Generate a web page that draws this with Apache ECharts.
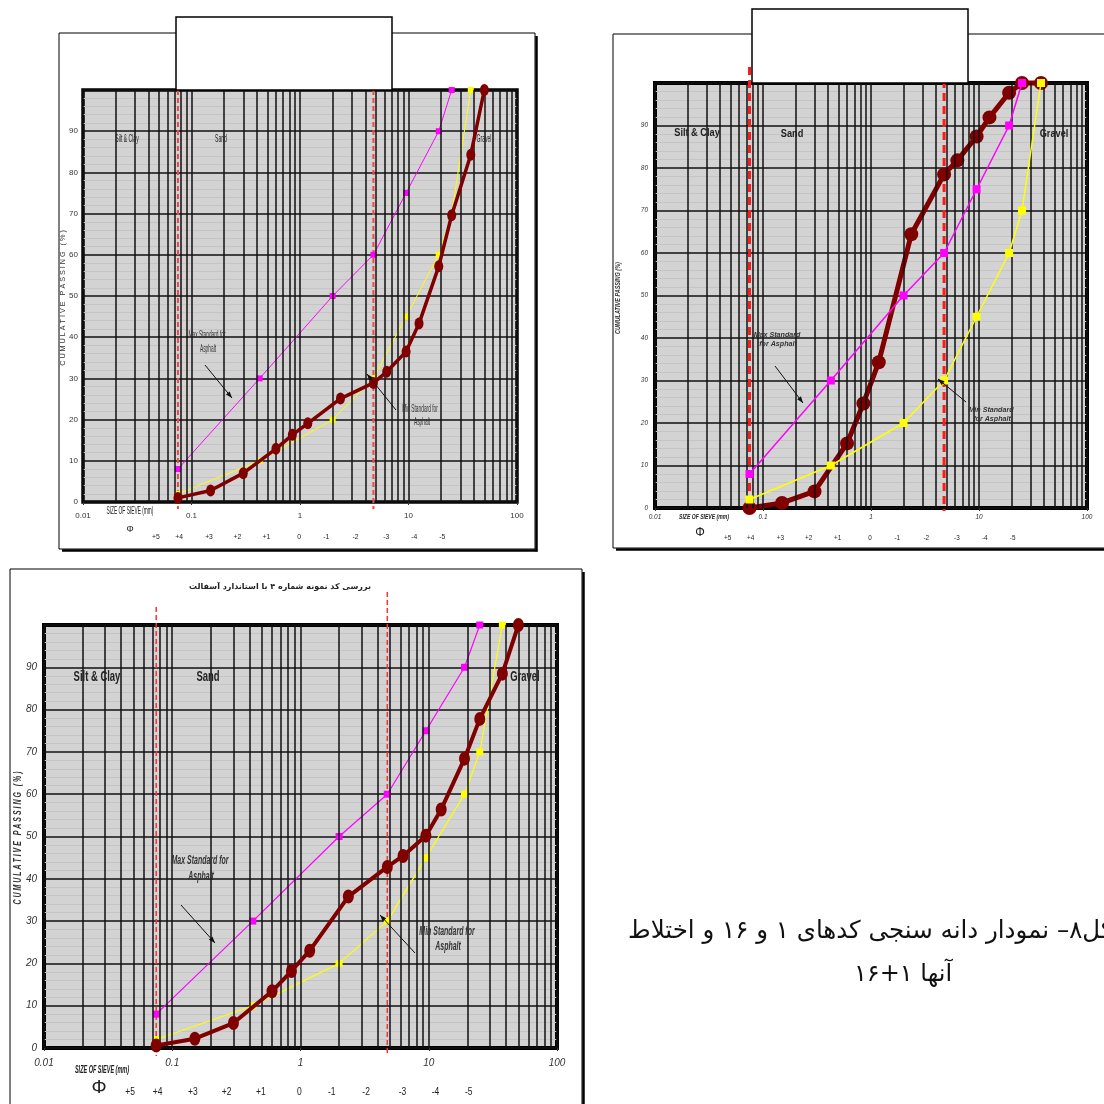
<!DOCTYPE html>
<html>
<head>
<meta charset="utf-8">
<script src="https://cdn.jsdelivr.net/npm/echarts@6/dist/echarts.min.js"></script>
<style>
  html, body { margin: 0; padding: 0; background: #fff; }
  #c { width: 1104px; height: 1104px; }
</style>
</head>
<body>
<div id="c"></div>
<script>
// Grading curves: asphalt aggregate standard envelope vs. tested samples.
// Sieve openings in mm, passing in percent.
const maxStdSieves = [0.075, 0.425, 2, 4.75, 9.5, 19, 25];
const maxStdPassing = [8, 30, 50, 60, 75, 90, 100];
const minStdSieves = [0.075, 0.425, 2, 4.75, 9.5, 19, 25, 37.5];
const minStdPassing = [2, 10, 20, 30, 45, 60, 70, 100];

const sample1Sieves = [0.075, 0.15, 0.3, 0.6, 0.85, 1.18, 2.36, 4.75, 6.3, 9.5, 12.5, 19, 25, 37.5, 50];
const sample1Passing = [1, 2.8, 7, 12.9, 16.3, 19.1, 25.1, 28.9, 31.6, 36.5, 43.3, 57.2, 69.6, 84.3, 100];
const sample16Sieves = [0.075, 0.15, 0.3, 0.6, 0.85, 1.18, 2.36, 4.75, 6.3, 9.5, 12.5, 19, 25, 37.5];
const sample16Passing = [0, 1.2, 3.9, 15.2, 24.6, 34.3, 64.4, 78.5, 81.8, 87.4, 91.9, 97.7, 100, 100];
const mixSieves = [0.075, 0.15, 0.3, 0.6, 0.85, 1.18, 2.36, 4.75, 6.3, 9.5, 12.5, 19, 25, 37.5, 50];
const mixPassing = [0.6, 2.2, 5.9, 13.4, 18.2, 23.0, 35.8, 42.8, 45.4, 50.2, 56.4, 68.4, 77.8, 88.5, 100];

// Axis labels
const sieveDecadeLabels = ['0.01', '0.1', '1', '10', '100'];
const phiLabels = ['+5', '+4', '+3', '+2', '+1', '0', '-1', '-2', '-3', '-4', '-5'];
const phiLabelSieves = [0.047, 0.077, 0.145, 0.265, 0.49, 0.98, 1.75, 3.25, 6.25, 11.3, 20.5];
const boundarySieves = [0.075, 4.75];
const zoneNames = ['Silt & Clay', 'Sand', 'Gravel'];

const SANS = '"Liberation Sans",Arial,sans-serif';
const FA = '"DejaVu Sans",sans-serif';

const spaced = s => s.split('').join(' ');

// log-paper vertical rulings: 1..9 within each decade
const logRulings = [];
for (let e = -2; e <= 1; e++) {
  for (let m = 1; m <= 9; m++) logRulings.push(+(m * Math.pow(10, e)).toPrecision(2));
}
logRulings.push(100);

const panels = [
  {
    grid: { left: 83, top: 90, width: 434, height: 412 },
    sieves: sample1Sieves, passing: sample1Passing,
    tickSize: 8, tickStyle: 'normal', tickWeight: 'normal',
    xMargin: 10, yMargin: 5,
    yName: [spaced('CUMULATIVE PASSING (%)'), 63, 298, 8, 'normal', 'normal', 0.9],
    phiY: 537, phiSize: 8,
    phiSym: [130, 530, 9],
    sizeLabel: [130, 511, 10.5, 'normal', 'normal', 0.46],
    zoneSize: 11, zoneWeight: 'normal', zoneScale: 0.46, zonePos: [[127, 139], [221, 139], [484, 139]],
    noteSize: 10.5, noteWeight: 'normal', noteStyle: 'normal', noteScale: 0.46,
    maxNote: [['Max Standard for', 207, 335], ['Asphalt', 208, 349]], maxArrow: [205, 365, 232, 398],
    minNote: [['Min Standard for', 420, 409], ['Asphalt', 422, 422]], minArrow: [396, 410, 367, 374],
    sampleWidth: 3.5, sampleSymbol: [9, 12], stdSymbol: 6, stdWidth: 1, border: 3.5, rulingWidth: 1.5,
    sampleOnTop: true,
    dash: { color: '#f04848', width: 2, dash: [5, 3], from: [90, 90], to: 509 },
    frame: { x: 59, y: 33, w: 476, h: 516, shadowR: true, shadowB: true },
    titleBox: { x: 176, y: 17, w: 216, h: 73 }
  },
  {
    grid: { left: 655, top: 83, width: 432, height: 425 },
    sieves: sample16Sieves, passing: sample16Passing,
    tickSize: 6.5, tickStyle: 'italic', tickWeight: 'normal',
    xMargin: 6, yMargin: 7,
    yName: ['CUMULATIVE PASSING (%)', 618, 298, 6.5, 'bold', 'italic', 0.85],
    phiY: 538, phiSize: 7.5,
    phiSym: [700, 533, 12],
    sizeLabel: [704, 517, 6.5, 'bold', 'italic', 0.78],
    zoneSize: 10, zoneWeight: 'bold', zoneScale: 0.92, zonePos: [[697, 133], [792, 134], [1054, 134]],
    noteSize: 7.5, noteWeight: 'bold', noteStyle: 'italic', noteScale: 0.95,
    maxNote: [['Max Standard', 777, 335], ['for Asphalt', 778, 344]], maxArrow: [775, 366, 803, 403],
    minNote: [['Min Standard', 991, 410], ['for Asphalt', 992, 419]], minArrow: [966, 402, 938, 379],
    sampleWidth: 5, sampleSymbol: 14, stdSymbol: 8, stdWidth: 1.5, border: 4, rulingWidth: 1.5,
    sampleOnTop: false,
    dash: { color: '#ff1a1a', width: 3, dash: [8, 5], from: [67, 67], to: 511 },
    frame: { x: 613, y: 34, w: 520, h: 514, shadowB: true },
    titleBox: { x: 752, y: 9, w: 216, h: 74 }
  },
  {
    grid: { left: 44, top: 625, width: 513, height: 423 },
    sieves: mixSieves, passing: mixPassing,
    tickSize: 10, tickStyle: 'italic', tickWeight: 'normal',
    xMargin: 10, yMargin: 7,
    yName: [spaced('CUMULATIVE PASSING (%)'), 18, 838, 10, 'bold', 'italic', 0.7],
    phiY: 1092, phiSize: 10,
    phiSym: [99, 1088, 19],
    sizeLabel: [102, 1070, 11, 'bold', 'italic', 0.5],
    zoneSize: 15.5, zoneWeight: 'bold', zoneScale: 0.61, zonePos: [[97, 677], [208, 677], [525, 677]],
    noteSize: 12, noteWeight: 'bold', noteStyle: 'italic', noteScale: 0.58,
    maxNote: [['Max Standard for', 200, 861], ['Asphalt', 201, 877]], maxArrow: [181, 905, 215, 943],
    minNote: [['Min Standard for', 447, 932], ['Asphalt', 448, 947]], minArrow: [415, 953, 380, 915],
    sampleWidth: 4, sampleSymbol: [11, 14], stdSymbol: 7, stdWidth: 1.2, border: 4, rulingWidth: 1.5,
    sampleOnTop: true,
    dash: { color: '#ff3030', width: 1.5, dash: [5, 3], from: [607, 592], to: 1056 },
    frame: { x: 10, y: 569, w: 572, h: 560, shadowR: true },
    title: ['بررسی کد نمونه شماره ۴ با استاندارد آسفالت', 280, 587]
  }
];

const chart = echarts.init(document.getElementById('c'));

const grids = [], xAxes = [], yAxes = [], series = [];
panels.forEach((p, i) => {
  grids.push(Object.assign({ show: true, backgroundColor: '#d3d3d3', borderColor: '#000', borderWidth: p.border, z: 0 }, p.grid));
  const labelStyle = { color: '#333', fontSize: p.tickSize, fontFamily: SANS, fontStyle: p.tickStyle, fontWeight: p.tickWeight };
  xAxes.push({
    type: 'log', logBase: 10, min: 0.01, max: 100, gridIndex: i,
    axisLine: { show: false },
    axisTick: { show: true, length: 3, lineStyle: { color: '#333' } },
    axisLabel: Object.assign({ margin: p.xMargin, formatter: v => sieveDecadeLabels[Math.round(Math.log10(v)) + 2] }, labelStyle),
    splitLine: { show: false }
  });
  yAxes.push({
    type: 'value', min: 0, max: 100, interval: 10, gridIndex: i,
    axisLine: { show: false }, axisTick: { show: false },
    axisLabel: Object.assign({ margin: p.yMargin, formatter: v => (v === 100 ? '' : String(v)) }, labelStyle),
    splitLine: { show: true, lineStyle: { color: '#111', width: 1.5 } },
    minorTick: { show: false, splitNumber: 5 },
    minorSplitLine: { show: true, lineStyle: { color: '#c4c4c4', width: 1 } }
  });
  // vertical log rulings
  series.push({
    type: 'line', xAxisIndex: i, yAxisIndex: i, z: 1, silent: true,
    data: [[0.01, 0]], symbol: 'none', lineStyle: { opacity: 0 },
    markLine: {
      silent: true, symbol: ['none', 'none'], label: { show: false },
      lineStyle: { color: '#111', width: p.rulingWidth, type: 'solid' },
      emphasis: { disabled: true },
      data: logRulings.map(v => ({ xAxis: v }))
    }
  });
  const stdZ = p.sampleOnTop ? 3 : 5;
  const sampleZ = p.sampleOnTop ? 5 : 3;
  series.push({
    name: 'Max Standard for Asphalt', type: 'line', xAxisIndex: i, yAxisIndex: i, z: stdZ, clip: false,
    data: maxStdSieves.map((s, k) => [s, maxStdPassing[k]]),
    symbol: 'rect', symbolSize: p.stdSymbol, showAllSymbol: true,
    itemStyle: { color: '#ff00ff' }, lineStyle: { color: '#ff00ff', width: p.stdWidth }
  });
  series.push({
    name: 'Min Standard for Asphalt', type: 'line', xAxisIndex: i, yAxisIndex: i, z: stdZ, clip: false,
    data: minStdSieves.map((s, k) => [s, minStdPassing[k]]),
    symbol: 'rect', symbolSize: p.stdSymbol, showAllSymbol: true,
    itemStyle: { color: '#ffff00' }, lineStyle: { color: '#ffff00', width: p.stdWidth }
  });
  series.push({
    name: 'Sample', type: 'line', xAxisIndex: i, yAxisIndex: i, z: sampleZ, clip: false,
    data: p.sieves.map((s, k) => [s, p.passing[k]]),
    symbol: 'circle', symbolSize: p.sampleSymbol, showAllSymbol: true,
    itemStyle: { color: '#800000' }, lineStyle: { color: '#800000', width: p.sampleWidth }
  });
});

chart.setOption({
  animation: false,
  backgroundColor: '#fff',
  grid: grids, xAxis: xAxes, yAxis: yAxes, series: series
});

// text element; sx squeezes the glyphs horizontally (condensed face), rot in radians
function txt(text, x, y, o) {
  const align = o.align || 'center';
  return {
    type: 'text', z: 10, x: x, y: y, silent: true,
    scaleX: o.sx || 1, rotation: o.rot || 0,
    style: {
      text: text, fill: o.color || '#222', fontSize: o.size, fontFamily: o.family || SANS,
      fontWeight: o.weight || 'normal', fontStyle: o.style || 'normal',
      textAlign: align, align: align, textVerticalAlign: 'middle', verticalAlign: 'middle'
    }
  };
}
function arrow(a, color) {
  const [x1, y1, x2, y2] = a;
  const ang = Math.atan2(y2 - y1, x2 - x1), h = 7;
  const p1 = [x2 - h * Math.cos(ang - 0.35), y2 - h * Math.sin(ang - 0.35)];
  const p2 = [x2 - h * Math.cos(ang + 0.35), y2 - h * Math.sin(ang + 0.35)];
  return [
    { type: 'line', z: 10, silent: true, shape: { x1, y1, x2, y2 }, style: { stroke: color, lineWidth: 1 } },
    { type: 'polygon', z: 10, silent: true, shape: { points: [[x2, y2], p1, p2] }, style: { fill: color } }
  ];
}

const g = [];
panels.forEach((p, i) => {
  const f = p.frame;
  g.push({ type: 'rect', z: 0, silent: true, shape: { x: f.x, y: f.y, width: f.w, height: f.h }, style: { fill: 'none', stroke: '#000', lineWidth: 1 } });
  if (f.shadowR) g.push({ type: 'line', z: 0, silent: true, shape: { x1: f.x + f.w + 1.5, y1: f.y + 3, x2: f.x + f.w + 1.5, y2: f.y + f.h + 2.5 }, style: { stroke: '#000', lineWidth: 2.5 } });
  if (f.shadowB) g.push({ type: 'line', z: 0, silent: true, shape: { x1: f.x + 3, y1: f.y + f.h + 1.5, x2: f.x + f.w + 2.5, y2: f.y + f.h + 1.5 }, style: { stroke: '#000', lineWidth: 2.5 } });

  boundarySieves.forEach((s, k) => {
    const x = chart.convertToPixel({ gridIndex: i }, [s, 0])[0];
    g.push({ type: 'line', z: 2, silent: true, shape: { x1: x, y1: p.dash.from[k], x2: x, y2: p.dash.to },
      style: { stroke: p.dash.color, lineWidth: p.dash.width, lineDash: p.dash.dash } });
  });

  if (p.titleBox) {
    const b = p.titleBox;
    g.push({ type: 'rect', z: 8, silent: true, shape: { x: b.x, y: b.y, width: b.w, height: b.h }, style: { fill: '#fff', stroke: '#000', lineWidth: 1.5 } });
  }
  if (p.title) g.push(txt(p.title[0], p.title[1], p.title[2], { size: 8, family: FA, weight: 'bold', color: '#222' }));

  const yn = p.yName;
  g.push(txt(yn[0], yn[1], yn[2], { size: yn[3], weight: yn[4], style: yn[5], sx: yn[6], rot: Math.PI / 2, color: '#333' }));

  phiLabels.forEach((t, k) => {
    const x = chart.convertToPixel({ gridIndex: i }, [phiLabelSieves[k], 0])[0];
    g.push(txt(t, x, p.phiY, { size: p.phiSize, sx: 0.85, color: '#222' }));
  });
  g.push(txt('Φ', p.phiSym[0], p.phiSym[1], { size: p.phiSym[2], color: '#222' }));
  const sl = p.sizeLabel;
  g.push(txt('SIZE OF SIEVE (mm)', sl[0], sl[1], { size: sl[2], weight: sl[3], style: sl[4], sx: sl[5], color: '#222' }));

  zoneNames.forEach((z, k) => {
    g.push(txt(z, p.zonePos[k][0], p.zonePos[k][1], { size: p.zoneSize, weight: p.zoneWeight, sx: p.zoneScale, color: '#222' }));
  });
  [p.maxNote, p.minNote].forEach(note => note.forEach(n => {
    g.push(txt(n[0], n[1], n[2], { size: p.noteSize, weight: p.noteWeight, style: p.noteStyle, sx: p.noteScale, color: '#333' }));
  }));
  g.push(...arrow(p.maxArrow, '#111'), ...arrow(p.minArrow, '#111'));
});

// figure caption
g.push(txt('شکل۸– نمودار دانه سنجی کدهای ۱ و ۱۶ و اختلاط', 628, 932, { size: 24.5, family: FA, align: 'left', color: '#111' }));
g.push(txt('آنها ۱+۱۶', 903, 975, { size: 24, family: FA, color: '#111' }));

chart.setOption({ graphic: { elements: g } });
</script>
</body>
</html>
